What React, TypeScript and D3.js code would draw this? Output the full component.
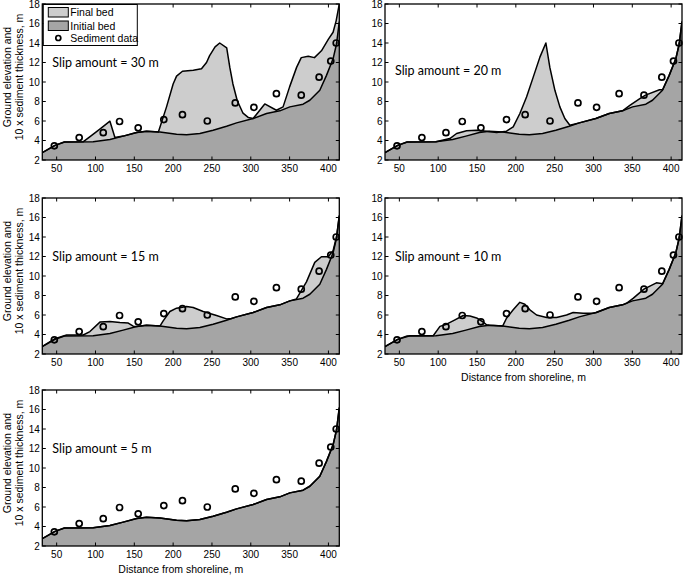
import React from "react";
import * as d3 from "d3";

// ---------- DATA ----------
const xTicks = [50, 100, 150, 200, 250, 300, 350, 400];
const yTicks = [2, 4, 6, 8, 10, 12, 14, 16, 18];

const sedimentX = [47, 79, 110, 131, 155, 188, 212, 244, 280, 304, 333, 365, 388, 403, 410];
const sedimentY = [3.45, 4.3, 4.8, 5.95, 5.3, 6.15, 6.65, 6.0, 7.85, 7.4, 8.8, 8.65, 10.5, 12.15, 14.0];

const initialX = [31.5, 47.8, 60, 97, 118.6, 135.7, 153, 165.8, 183, 204.4, 217.3, 234.4, 251.5, 268.8, 281.7, 303, 320.3, 337.4, 350.3, 367.4, 376, 388.9, 397.5, 406, 410.4, 414];
const initialY = [2.75, 3.5, 3.85, 3.87, 4.1, 4.45, 4.83, 4.96, 4.86, 4.65, 4.59, 4.72, 5.06, 5.47, 5.81, 6.25, 6.77, 7.04, 7.45, 7.72, 8.13, 9.15, 10.68, 12.38, 13.9, 16.2];

const final30X = [31.5, 47.8, 60, 84, 93, 106, 118.6, 125, 135.7, 153, 165.8, 181, 191.5, 200, 204.4, 212, 226, 236.5, 243, 247, 254, 260, 269, 273, 277, 282.5, 290, 297, 303, 318, 333, 341.6, 350, 359, 365, 374, 382, 391, 400, 406, 410, 414];
const final30Y = [2.75, 3.5, 3.85, 3.86, 4.4, 5.2, 5.98, 4.3, 4.45, 4.83, 4.96, 4.87, 7.45, 9.8, 10.6, 11.1, 11.2, 11.36, 12.0, 12.7, 13.6, 14.0, 13.5, 11.5, 9.8, 8.1, 6.8, 6.35, 6.25, 7.75, 7.1, 7.45, 9.5, 11.5, 12.5, 12.65, 12.5, 13.2, 14.4, 15.1, 16.3, 18];

const final20X = [31.5, 47.8, 60, 97, 115, 123.7, 136.6, 149.5, 162.3, 175.2, 188, 196.6, 205.2, 213.8, 222.4, 231, 238.7, 243.8, 250.3, 256.7, 263.1, 269.6, 281.7, 303, 320.3, 337.4, 346.8, 359.7, 367, 385, 389, 397.5, 406, 410.4, 414];
const final20Y = [2.75, 3.5, 3.85, 3.87, 4.2, 4.72, 5.0, 5.06, 4.96, 4.83, 4.96, 5.4, 6.77, 8.47, 10.5, 12.55, 14.0, 11.5, 9.15, 7.45, 6.25, 5.57, 5.81, 6.25, 6.77, 7.04, 7.6, 8.3, 8.65, 9.2, 9.2, 10.68, 12.38, 13.9, 16.2];

const final15X = [31.5, 47.8, 62.8, 84.2, 92.8, 105.7, 118.6, 131.4, 142.2, 148.6, 153, 165.8, 183, 187.2, 195.8, 204.4, 217.3, 225.8, 238.7, 255.9, 268.8, 275, 281.7, 303, 320.3, 337.4, 350.3, 358.8, 371.7, 382.4, 391, 399.6, 406, 410.4, 414];
const final15Y = [2.78, 3.57, 3.95, 3.95, 4.3, 5.27, 5.34, 5.23, 5.17, 4.85, 4.83, 4.96, 4.86, 5.4, 6.36, 6.7, 6.87, 6.77, 6.36, 5.95, 5.6, 5.65, 5.81, 6.25, 6.77, 7.04, 7.45, 7.65, 9.4, 11.4, 11.97, 11.97, 12.6, 14.0, 16.2];

const final10X = [31.5, 47.8, 63.6, 93.6, 102.3, 110.9, 121.6, 132.3, 140.9, 149.5, 158, 162.3, 165.8, 183, 188, 196.6, 205.2, 211.6, 218.1, 226.7, 239.6, 252.4, 265.3, 273.8, 286.7, 299.6, 303.9, 320.3, 337.4, 342.5, 351, 365, 381, 389, 397.5, 406, 410.4, 414];
const final10Y = [2.75, 3.5, 3.87, 3.87, 4.83, 5.06, 5.5, 5.95, 5.9, 5.7, 5.27, 5.0, 4.96, 4.86, 5.67, 6.53, 7.3, 7.1, 6.53, 6.0, 5.74, 5.74, 6.0, 6.25, 6.17, 6.17, 6.25, 6.77, 7.04, 7.2, 7.7, 8.65, 9.3, 9.2, 10.68, 12.38, 13.9, 16.2];

const final5X = initialX;
const final5Y = initialY;

const slipAmounts = [30, 20, 15, 10, 5];
const slipLabelY = [12, 11.2, 12, 12, 12];
const finalXs = [final30X, final20X, final15X, final10X, final5X];
const finalYs = [final30Y, final20Y, final15Y, final10Y, final5Y];

// ---------- LAYOUT ----------
const W = 685;
const H = 579;
const colX = [42.3, 385];
const rowY = [4, 198, 390];
const PW = 297;
const PH = 156;
const panelPos = [
  [0, 0],
  [1, 0],
  [0, 1],
  [1, 1],
  [0, 2],
];
const LIGHT = "#cdcdcd";
const DARK = "#a5a5a5";
const TICK_FONT = "'Liberation Sans', Arial, Helvetica, sans-serif";
const SLIP_FONT = "Lato, 'Open Sans', sans-serif";

type P = [number, number];
const zip = (xs: number[], ys: number[]): P[] => xs.map((x, i) => [x, ys[i]]);

function Panel({ idx }: { idx: number }) {
  const [c, r] = panelPos[idx];
  const left = colX[c];
  const top = rowY[r];
  const x = d3.scaleLinear().domain([31.5, 414]).range([0, PW]);
  const y = d3.scaleLinear().domain([2, 18]).range([PH, 0]);
  const initPts = zip(initialX, initialY);
  const finPts = zip(finalXs[idx], finalYs[idx]);
  const area = d3
    .area<P>()
    .x((d) => x(d[0]))
    .y0(y(2))
    .y1((d) => y(d[1]));
  const line = d3
    .line<P>()
    .x((d) => x(d[0]))
    .y((d) => y(d[1]));
  const sed = zip(sedimentX, sedimentY);
  const tl = 3.5;
  const showYLabel = c === 0;
  const showXLabel = (c === 1 && r === 1) || (c === 0 && r === 2);
  const clipId = `clip${idx}`;
  return (
    <g transform={`translate(${left},${top})`}>
      <defs>
        <clipPath id={clipId}>
          <rect x={0} y={0} width={PW} height={PH} />
        </clipPath>
      </defs>
      <g clipPath={`url(#${clipId})`}>
        <path d={area(finPts) || ""} fill={LIGHT} />
        <path d={area(initPts) || ""} fill={DARK} />
        <path d={line(finPts) || ""} fill="none" stroke="#000" strokeWidth={1.5} strokeLinejoin="round" />
        <path d={line(initPts) || ""} fill="none" stroke="#000" strokeWidth={1.5} strokeLinejoin="round" />
      </g>
      {sed.map((d, i) => (
        <circle key={i} cx={x(d[0])} cy={y(d[1])} r={3} fill="none" stroke="#000" strokeWidth={1.7} />
      ))}
      {/* ticks */}
      {xTicks.map((t) => (
        <g key={"xt" + t}>
          <line x1={x(t)} x2={x(t)} y1={PH} y2={PH - tl} stroke="#000" strokeWidth={1} />
          <line x1={x(t)} x2={x(t)} y1={0} y2={tl} stroke="#000" strokeWidth={1} />
          <text x={x(t)} y={PH + 11.5} textAnchor="middle" fontSize={10} fontFamily={TICK_FONT} fill="#000">
            {t}
          </text>
        </g>
      ))}
      {yTicks.map((t) => (
        <g key={"yt" + t}>
          <line x1={0} x2={tl} y1={y(t)} y2={y(t)} stroke="#000" strokeWidth={1} />
          <line x1={PW} x2={PW - tl} y1={y(t)} y2={y(t)} stroke="#000" strokeWidth={1} />
          <text x={-2.5} y={y(t) + 3.6} textAnchor="end" fontSize={10} fontFamily={TICK_FONT} fill="#000">
            {t}
          </text>
        </g>
      ))}
      <rect x={0} y={0} width={PW} height={PH} fill="none" stroke="#000" strokeWidth={1.3} />
      <text x={10} y={y(slipLabelY[idx]) + 4.5} fontSize={12.5} fontFamily={SLIP_FONT} fill="#000">
        {`Slip amount = ${slipAmounts[idx]} m`}
      </text>
      {showYLabel && (
        <g transform={`translate(${-left},${PH / 2 - 5}) rotate(-90)`}>
          <text x={0} y={11} textAnchor="middle" fontSize={10.5} fontFamily={TICK_FONT} fill="#000">
            Ground elevation and
          </text>
          <text x={0} y={22.5} textAnchor="middle" fontSize={10.5} fontFamily={TICK_FONT} fill="#000">
            10 x sediment thickness, m
          </text>
        </g>
      )}
      {showXLabel && (
        <text x={PW / 2 - 10} y={PH + 27} textAnchor="middle" fontSize={10.5} fontFamily={TICK_FONT} fill="#000">
          Distance from shoreline, m
        </text>
      )}
      {idx === 0 && (
        <g>
          <rect x={1} y={0.5} width={94} height={41} fill="#fff" stroke="#000" strokeWidth={1} />
          <rect x={6} y={3.5} width={20} height={9.5} fill={LIGHT} stroke="#000" strokeWidth={1} />
          <text x={28} y={12} fontSize={10.5} fontFamily={TICK_FONT} fill="#000">Final bed</text>
          <rect x={6} y={17} width={20} height={9.5} fill={DARK} stroke="#000" strokeWidth={1} />
          <text x={28} y={25.5} fontSize={10.5} fontFamily={TICK_FONT} fill="#000">Initial bed</text>
          <circle cx={16} cy={34} r={2.5} fill="none" stroke="#000" strokeWidth={1.7} />
          <text x={28} y={38} fontSize={10.5} fontFamily={TICK_FONT} fill="#000">Sediment data</text>
        </g>
      )}
    </g>
  );
}

export default function App() {
  return (
    <svg
      width={W}
      height={H}
      viewBox={`0 0 ${W} ${H}`}
      style={{ position: "absolute", left: 0, top: 0, background: "#fff" }}
    >
      <rect width={W} height={H} fill="#fff" />
      {slipAmounts.map((_, i) => (
        <Panel key={i} idx={i} />
      ))}
    </svg>
  );
}
